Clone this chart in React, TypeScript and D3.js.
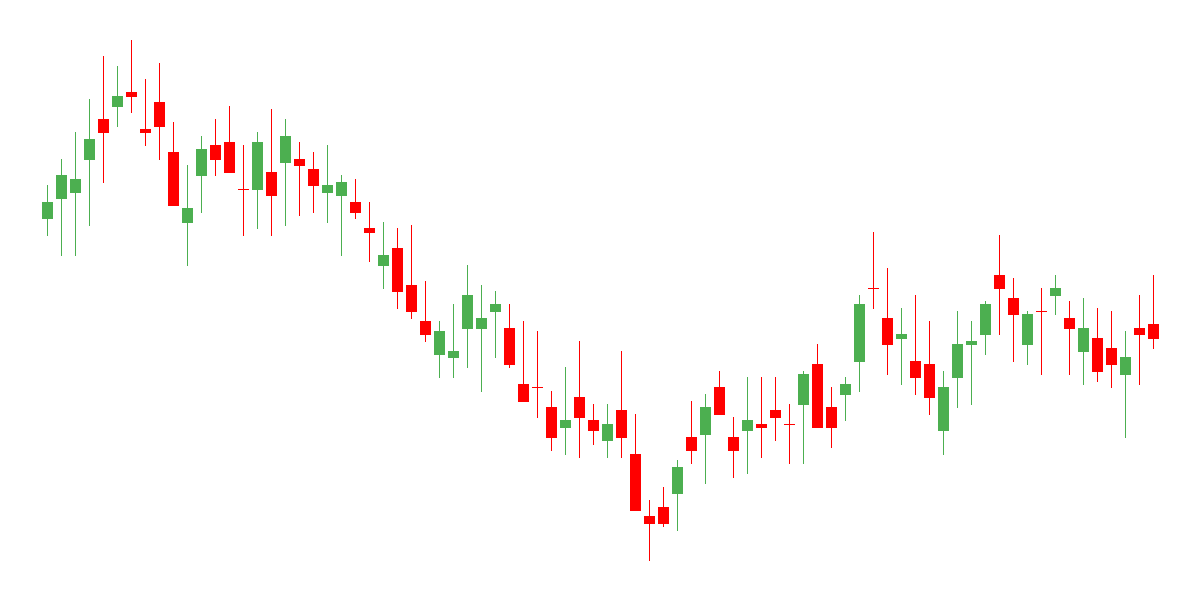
import React from "react";
import * as d3 from "d3";

const opens = [95.33, 100.33, 101.83, 110.08, 120.25, 123.33, 127, 117.75, 124.5, 112, 94.33, 106.08, 113.75, 114.5, 102.68, 102.58, 107, 109.33, 110.25, 107.75, 101.83, 101.08, 99.5, 93, 83.58, 88, 78.75, 69.75, 61.33, 60.58, 67.83, 67.83, 72.08, 68, 54, 53.25, 48.25, 43.08, 50.75, 45, 39.83, 47.5, 36.5, 21, 23.25, 26.58, 40.75, 41.33, 53.25, 40.75, 42.33, 44, 47.5, 43.93, 48.83, 59, 48.25, 51.33, 59.58, 77.93, 70.5, 65.33, 59.75, 59, 42.33, 55.58, 63.83, 66.33, 81.25, 75.5, 63.83, 72.25, 76.08, 70.5, 62.08, 65.5, 63, 56.33, 68, 69];
const closes = [99.5, 106.25, 105.25, 115.25, 116.83, 126, 125.83, 116.83, 118.33, 98.58, 98, 112.75, 110.08, 106.83, 102.68, 114.5, 101.08, 116, 108.58, 103.58, 103.75, 104.5, 96.83, 91.83, 86.25, 77.08, 72.08, 66.33, 67.25, 62.25, 76.25, 70.5, 74, 58.83, 49.58, 53.25, 40.58, 45, 45.58, 42.33, 44, 40.58, 22.33, 19.08, 19.08, 33.25, 37.33, 48.25, 46.33, 37.33, 45, 43.08, 45.58, 43.93, 56.5, 43.08, 43.08, 54, 74, 77.93, 63.83, 66.5, 55.58, 50.58, 53.25, 64, 64.75, 74, 77.83, 71.33, 71.5, 72.25, 78, 67.83, 68, 57.08, 58.83, 60.75, 66.33, 65.33];
const highs = [103.75, 110.25, 117, 125.25, 136, 133.5, 140, 130.25, 134.25, 119.5, 108.75, 116, 120.25, 123.5, 113.75, 117, 122.75, 120.25, 114.5, 112, 113.75, 106.25, 105.25, 99.5, 94.5, 93, 93.75, 79.75, 69.75, 74, 83.75, 78.75, 77.25, 74, 69.75, 67.25, 52.25, 58.25, 64.75, 49, 49, 62.25, 46.5, 25, 28.25, 35, 49.75, 51.5, 57.25, 45.75, 55.75, 55.75, 55.75, 49, 57.25, 64, 53.25, 55.75, 76.25, 92, 83, 73, 76.25, 69.75, 57.25, 72.25, 69.75, 74.75, 91.25, 80.5, 72.25, 78, 81.25, 74.75, 75.5, 73, 72.25, 67.25, 76.25, 81.25];
const lows = [91.08, 86.08, 86.08, 93.58, 104.33, 118.33, 121.83, 113.58, 110.08, 98.58, 83.58, 96.83, 106.08, 106.83, 91.08, 92.83, 91.08, 93.58, 96.08, 96.83, 94.33, 86.08, 95.33, 84.58, 77.83, 72.83, 70.33, 64.58, 55.58, 55.58, 58.08, 52.08, 60.58, 58.08, 49.58, 45.58, 37.33, 36.33, 35.58, 38.83, 35.58, 35.58, 22.33, 9.83, 18.33, 17.33, 34.08, 29.08, 46.33, 30.58, 31.58, 35.58, 39.83, 34.08, 34.08, 43.08, 38.08, 44.83, 52.08, 72.83, 56.33, 53.83, 51.33, 46.33, 36.33, 48.08, 48.83, 61.33, 66.33, 59.58, 58.83, 56.33, 71.33, 56.33, 53.83, 54.58, 53.08, 40.58, 53.83, 62.83];

const sessions = opens.map((_, i) => i);

const UP = "#4caf50";
const DOWN = "#ff0000";

export default function App() {
  const width = 1200;
  const height = 600;
  const x = d3
    .scaleBand<number>()
    .domain(sessions)
    .range([40.5, 1160.5])
    .paddingInner(3 / 14)
    .paddingOuter(1.5 / 14);
  const y = d3.scaleLinear().domain([0, 150]).range([600, 0]);
  const bw = x.bandwidth();

  return (
    <svg
      width={width}
      height={height}
      style={{ position: "absolute", left: 0, top: 0, background: "#fff" }}
    >
      {sessions.map((i) => {
        const o = opens[i];
        const c = closes[i];
        const up = c > o;
        const color = up ? UP : DOWN;
        const x0 = x(i)!;
        const cx = Math.floor(x0 + bw / 2) + 0.5;
        const yTop = Math.round(y(Math.max(o, c)));
        const yBot = Math.round(y(Math.min(o, c)));
        const h = Math.max(1, yBot - yTop);
        return (
          <g key={i}>
            <line
              x1={cx}
              x2={cx}
              y1={Math.round(y(highs[i]))}
              y2={Math.round(y(lows[i]))}
              stroke={color}
              strokeWidth={1}
            />
            <rect x={Math.round(x0)} y={yTop} width={bw} height={h} fill={color} />
          </g>
        );
      })}
    </svg>
  );
}
